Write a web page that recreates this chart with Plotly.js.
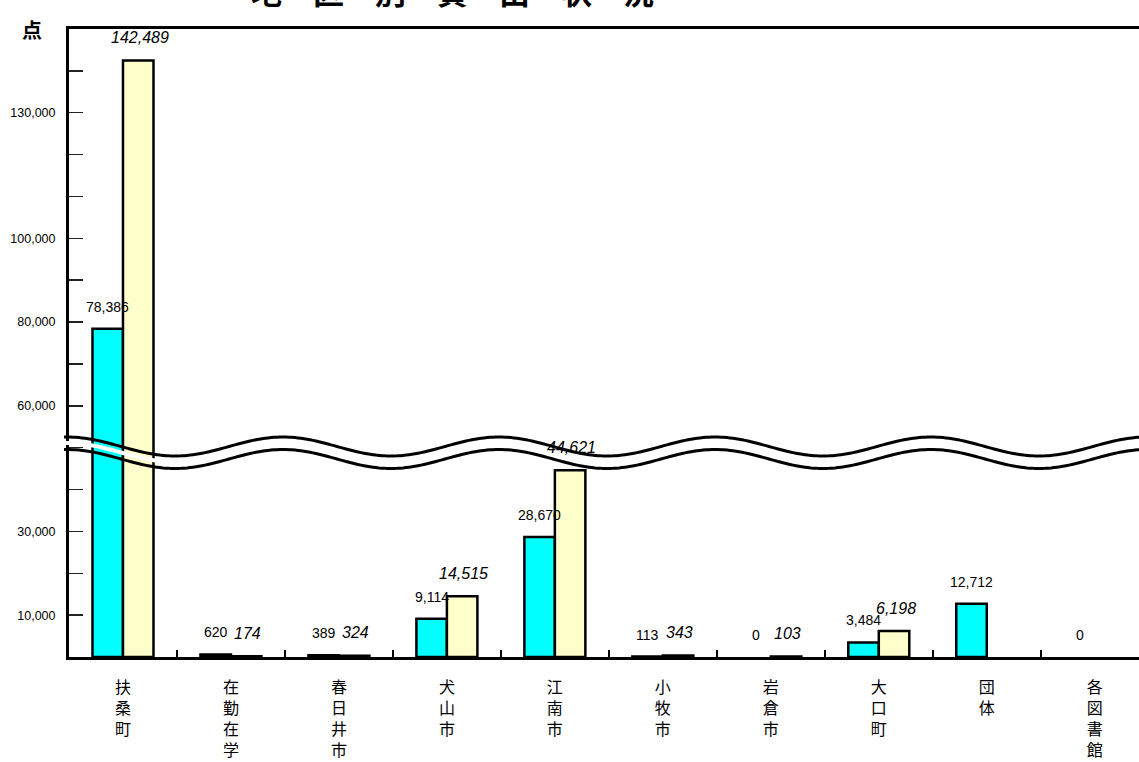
<!DOCTYPE html>
<html>
<head>
<meta charset="utf-8">
<script src="https://cdn.plot.ly/plotly-3.0.1.min.js"></script>
<style>html,body{margin:0;padding:0;background:#fff;}#chart{width:1139px;height:762px;}</style>
</head>
<body>
<div id="chart"></div>
<script>
// ---- data ----
const categories = ['扶桑町','在勤在学','春日井市','犬山市','江南市','小牧市','岩倉市','大口町','団体','各図書館'];
const seriesA = [78386, 620, 389, 9114, 28670, 113, 0, 3484, 12712, 0];
const seriesB = [142489, 174, 324, 14515, 44621, 343, 103, 6198, null, null];
const yTickVals = [10000,20000,30000,40000,50000,60000,70000,80000,90000,100000,110000,120000,130000,140000];
const yTickText = ['10,000','','30,000','','','60,000','','80,000','','100,000','','','130,000',''];
const titleText = '地　区　別　貸　出　状　況';
const unitText = '点';

// ---- layout constants ----
const W = 1139, H = 762;
const L = 69, R = 0, T = 29, B = 105;
const PW = W - L - R, PH = H - T - B;
const px2x = p => (p - L) / PW;
const px2y = p => (H - B - p) / PH;

const fmt = v => v.toLocaleString('en-US');
const numFont = 'Liberation Sans, Arial, sans-serif';
const jpFont = 'Noto Sans CJK JP, sans-serif';

const traces = [
  {type:'bar', x:categories, y:seriesA, marker:{color:'#00FFFF', line:{color:'#000', width:seriesA.map(v => v ? 2.5 : 0)}}, hoverinfo:'skip'},
  {type:'bar', x:categories, y:seriesB, marker:{color:'#FFFFCC', line:{color:'#000', width:seriesB.map(v => v ? 2.5 : 0)}}, hoverinfo:'skip'}
];

const annotations = [];
categories.forEach((c, i) => {
  if (seriesA[i] !== null) annotations.push({x:c, y:seriesA[i], xref:'x', yref:'y', text:fmt(seriesA[i]), showarrow:false,
    xshift:-15, yshift:22, yanchor:'middle', font:{family:numFont, size:14, color:'#000'}});
  if (seriesB[i] !== null) annotations.push({x:c, y:seriesB[i], xref:'x', yref:'y', text:'<i>'+fmt(seriesB[i])+'</i>', showarrow:false,
    xshift:17, yshift:23, yanchor:'middle', font:{family:numFont, size:16, color:'#000'}});
});
annotations.push({xref:'paper', yref:'paper', x:px2x(453), y:px2y(-10), text:'<b>'+titleText+'</b>', showarrow:false,
  xanchor:'center', yanchor:'middle', font:{family:jpFont, size:31, color:'#000'}});
annotations.push({xref:'paper', yref:'paper', x:px2x(32), y:px2y(29), text:'<b>'+unitText+'</b>', showarrow:false,
  xanchor:'center', yanchor:'middle', font:{family:jpFont, size:20, color:'#000'}});

// decorative break waves
function wave(cy, amp) {
  let d = '';
  for (let p = 64; p <= W + 2; p += 3) {
    const y = cy - amp * Math.cos(2 * Math.PI * (p - 283) / 216);
    d += (d ? ' L' : 'M') + px2x(p).toFixed(5) + ',' + px2y(y).toFixed(5);
  }
  return d;
}
const shapes = [
  {type:'path', xref:'paper', yref:'paper', path:wave(452.5, 9.5), line:{color:'#fff', width:4}, layer:'above'},
  {type:'path', xref:'paper', yref:'paper', path:wave(446.5, 9.5), line:{color:'#000', width:3}, layer:'above'},
  {type:'path', xref:'paper', yref:'paper', path:wave(459, 9.5), line:{color:'#000', width:3}, layer:'above'}
];

const layout = {
  width:W, height:H,
  margin:{l:L, r:R, t:T, b:B},
  paper_bgcolor:'#fff', plot_bgcolor:'#fff',
  showlegend:false,
  barmode:'group', bargap:0.435, bargroupgap:0,
  xaxis:{type:'category', range:[-0.5, 9.41], tickvals:categories, ticktext:categories.map(c => c.split('').join('<br>')),
    tickson:'boundaries', ticks:'inside', ticklen:7, tickwidth:1.5, tickcolor:'#000',
    showline:true, linecolor:'#000', linewidth:3, mirror:true, showgrid:false, zeroline:false,
    ticklabelstandoff:14, tickfont:{family:jpFont, size:16, color:'#000'}, fixedrange:true},
  yaxis:{range:[0,150000], tickvals:yTickVals, ticktext:yTickText, ticks:'inside', ticklen:14, tickwidth:1.5, tickcolor:'#222',
    showline:true, linecolor:'#000', linewidth:3, showgrid:false, zeroline:false,
    ticklabelstandoff:8, tickfont:{family:numFont, size:12.5, color:'#000'}, fixedrange:true},
  annotations:annotations,
  shapes:shapes
};

Plotly.newPlot('chart', traces, layout, {staticPlot:true, displayModeBar:false});
</script>
</body>
</html>
